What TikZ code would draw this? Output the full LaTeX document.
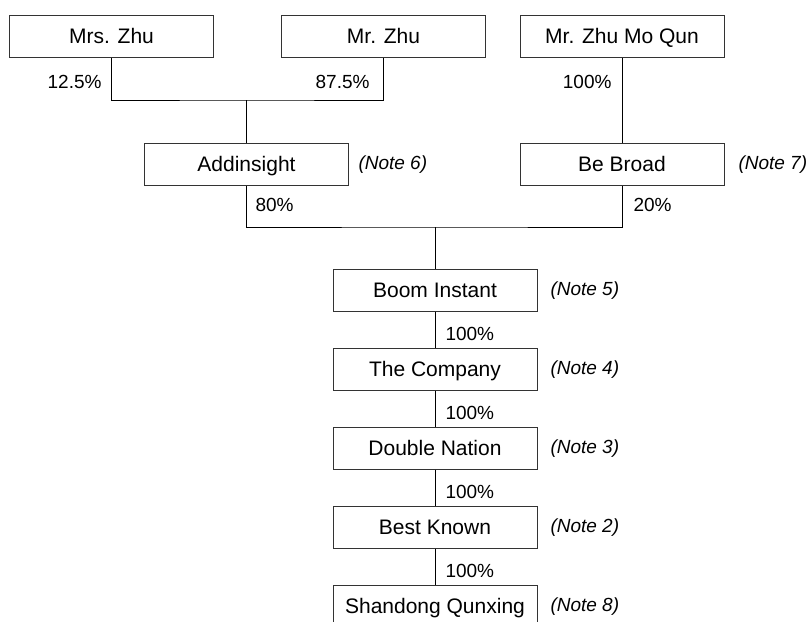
\documentclass[tikz,border=0pt]{standalone}
\usepackage{fontspec}
\setmainfont{Liberation Sans}

\begin{document}
\begin{tikzpicture}[x = 1pt, y = -1pt, line width = 1pt,
	box/.style = {draw = black!80, minimum width = 204pt, minimum height = 42pt, inner sep = 0pt, text height = 18pt, text depth = 4pt, font = \fontsize{21}{25}\selectfont},
	pct/.style = {inner sep = 0pt, text height = 13.6pt, text depth = 0pt, font = \fontsize{19}{23}\selectfont},
	note/.style = {pct, anchor = west, font = \fontsize{19}{23}\selectfont\itshape}]

	\clip (0, 0) rectangle (807, 622);

	% Definitions

	\def\S{79}			% Spacing of the chain boxes
	\def\X{435}			% Centre line of the chain

	% Owners

	\node [box] (mrs) at (111.5, 36.5) {Mrs. Zhu};
	\node [box] (mr) at (383.5, 36.5) {Mr. Zhu};
	\node [box] (moqun) at (622, 36.5) {Mr. Zhu Mo Qun};

	% Holding companies

	\node [box] (add) at (246.5, 164) {Addinsight};
	\node [box] (broad) at (622, 164) {Be Broad};
	\node [note] (note6) at (358, 163) {(Note 6)};
	\node [note] (note7) at (738, 163) {(Note 7)};

	% Chain of subsidiaries

	\foreach \n/\name/\txt/\nt in {0/boom/Boom Instant/5, 1/company/The Company/4, 2/double/Double Nation/3, 3/best/Best Known/2, 4/shandong/Shandong Qunxing/8}
	{
		\node [box] (\name) at (\X, 290 + \n * \S) {\txt};
		\node [note] (note\nt) at (550, 289 + \n * \S) {(Note \nt)};
	}

	% Connectors

	\coordinate (join1) at (246.5, 100);
	\coordinate (join2) at (\X, 227);
	\draw (mrs.south) |- (join1) -| (mr.south);
	\draw (join1) -- (add.north);
	\draw (moqun) -- (broad);
	\draw (add.south) |- (join2) -| (broad.south);
	\draw (join2) -- (boom.north);

	\foreach \a/\b [count = \k] in {boom/company, company/double, double/best, best/shandong}
	{
		\draw (\a) -- (\b);
		\node [pct, anchor = west] (pct\k) at (445, 255 + \k * \S) {100\%};
	}

	% Percentages

	\node [pct, anchor = east] (pmrs) at (102, 82) {12.5\%};
	\node [pct, anchor = east] (pmr) at (370, 82) {87.5\%};
	\node [pct, anchor = east] (pmoqun) at (612, 82) {100\%};
	\node [pct, anchor = west] (padd) at (255, 205) {80\%};
	\node [pct, anchor = west] (pbroad) at (633, 205) {20\%};

\end{tikzpicture}
\end{document}
